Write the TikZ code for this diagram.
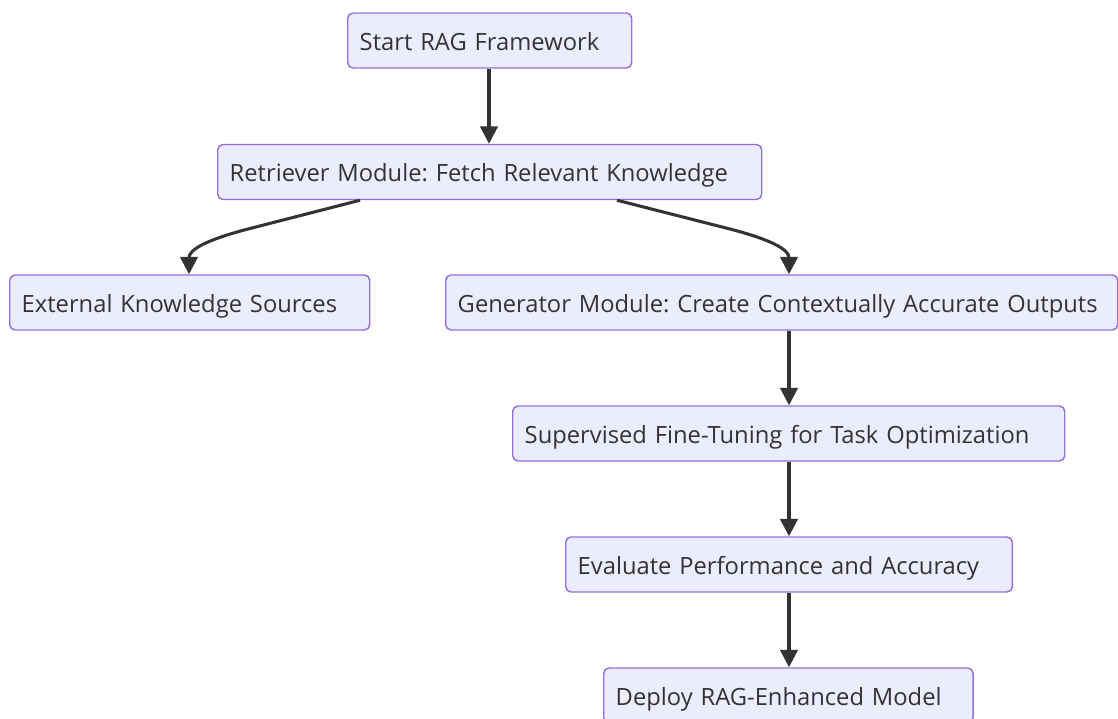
\documentclass[tikz,border=0pt]{standalone}
\usepackage{fontspec}
\setmainfont{Open Sans}
\usetikzlibrary{arrows.meta,calc}
\definecolor{boxfill}{HTML}{ECECFF}
\definecolor{boxdraw}{HTML}{9370DB}
\definecolor{linecol}{HTML}{333333}
\frenchspacing
\tikzset{
  box/.style={draw=boxdraw, fill=boxfill, line width=1.1pt, rounded corners=4pt,
    minimum height=41.25pt, inner xsep=9pt, inner ysep=0pt, anchor=west,
    text=linecol, font=\fontsize{17.8pt}{22pt}\selectfont\frenchspacing, align=left,
    text height=16pt, text depth=1.5pt},
  conn/.style={draw=linecol, line width=2.3pt, -{Triangle[length=13pt,width=13pt]}}
}
\begin{document}
\begin{tikzpicture}[x=0.75pt,y=-0.75pt]
\useasboundingbox (0,0) rectangle (1118,718);
\node[box, minimum width=213pt, text width=195pt] (start) at (347,40.5) {Start RAG Framework};
\node[box, minimum width=408pt, text width=390pt] (ret) at (217,172) {Retriever Module: Fetch Relevant Knowledge};
\node[box, minimum width=270pt, text width=252pt] (ext) at (9,302.5) {External Knowledge Sources};
\node[box, minimum width=504pt, text width=486pt] (gen) at (445,302.5) {\mbox{Generator Module: Create Contextually Accurate Outputs}};
\node[box, minimum width=414pt, text width=396pt] (sup) at (512,433.5) {Supervised Fine-Tuning for Task Optimization};
\node[box, minimum width=335pt, text width=317pt] (eva) at (565,564.5) {Evaluate Performance and Accuracy};
\node[box, minimum width=277pt, text width=259pt] (dep) at (603,695.5) {Deploy RAG-Enhanced Model};

\draw[conn] (start.south -| 489,0) -- (ret.north -| 489,0);
\draw[conn] ($(ret.south west)+(143,0)$) -- (250,228.5) .. controls (205,240) and (189,250) .. (ext.north -| 189,0);
\draw[conn] ($(ret.south west)+(400,0)$) -- (728,228.5) .. controls (773,240) and (789,250) .. (gen.north -| 789,0);
\draw[conn] (gen.south -| 789,0) -- (sup.north -| 789,0);
\draw[conn] (sup.south -| 789,0) -- (eva.north -| 789,0);
\draw[conn] (eva.south -| 789,0) -- (dep.north -| 789,0);
\end{tikzpicture}
\end{document}
